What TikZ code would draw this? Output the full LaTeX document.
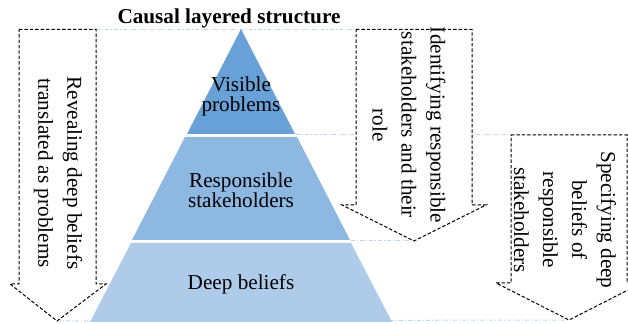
\documentclass[tikz,border=0pt]{standalone}
\usepackage{fontspec}
\setmainfont{Liberation Serif}
\definecolor{layertop}{RGB}{104,161,215}
\definecolor{layermid}{RGB}{141,184,226}
\definecolor{layerbot}{RGB}{174,203,234}
\definecolor{guideblue}{RGB}{190,215,240}
\tikzset{
	guide/.style={guideblue,line width=0.5pt,dash pattern=on 2pt off 1pt on 0.5pt off 1pt},
	arrowbox/.style={draw=black,fill=white,line width=0.5pt,dash pattern=on 1.7pt off 1pt},
	arrowtext/.style={rotate=-90,align=center,inner sep=0pt,font=\fontsize{10.6}{14.5}\selectfont},
	layertext/.style={align=center,inner sep=0pt,font=\fontsize{10.6}{10}\selectfont}
}
\begin{document}
\begin{tikzpicture}[x=0.5pt,y=-0.5pt]
		\useasboundingbox (0,0) rectangle (628,324);
		\coordinate (apex) at (241,29);
		\coordinate (revNE) at (96,29.5);
		\coordinate (revTip) at (57,321);
		\coordinate (idNW) at (356,29.5);
		\coordinate (idTip) at (414,241);
		\coordinate (specNW) at (511,135);
		\coordinate (specTip) at (569,320);
		\draw[guide] (revNE) -- (idNW);
		\draw[guide] (296,135) -- (specNW);
		\draw[guide] (351,241) -- (idTip);
		\draw[guide] (revTip) -- (specTip);
		\fill[layertop] (apex) -- (295,134) -- (187,134) -- cycle;
		\fill[layermid] (185,137) -- (297,137) -- (350,240) -- (132,240) -- cycle;
		\fill[layerbot] (131,243) -- (351,243) -- (392,322) -- (90,322) -- cycle;
		\draw[arrowbox] (19,29.5) -- (revNE) -- (96,284) -- (106,284) -- (revTip) -- (10,284) -- (19,284) -- cycle;
		\draw[arrowbox] (idNW) -- (472,29.5) -- (472,205) -- (486,205) -- (idTip) -- (342,205) -- (356,205) -- cycle;
		\draw[arrowbox] (specNW) -- (627,135) -- (627,283) -- (642,283) -- (specTip) -- (496,283) -- (511,283) -- cycle;
		\node[font=\fontsize{10.6}{12}\selectfont\bfseries] (title) at (229,18) {Causal layered structure};
		\node[layertext] (visible) at (241,96) {Visible\\problems};
		\node[layertext] (stake) at (241,190) {Responsible\\stakeholders};
		\node[layertext] (deep) at (241,284) {Deep beliefs};
		\node[arrowtext] (reveal) at (58,173) {Revealing deep beliefs\\translated as problems};
		\node[arrowtext] (identify) at (409,125) {Identifying responsible\\stakeholders and their\\role};
		\node[arrowtext] (specify) at (565,220) {Specifying deep\\beliefs of\\responsible\\stakeholders};
	\end{tikzpicture}
\end{document}
